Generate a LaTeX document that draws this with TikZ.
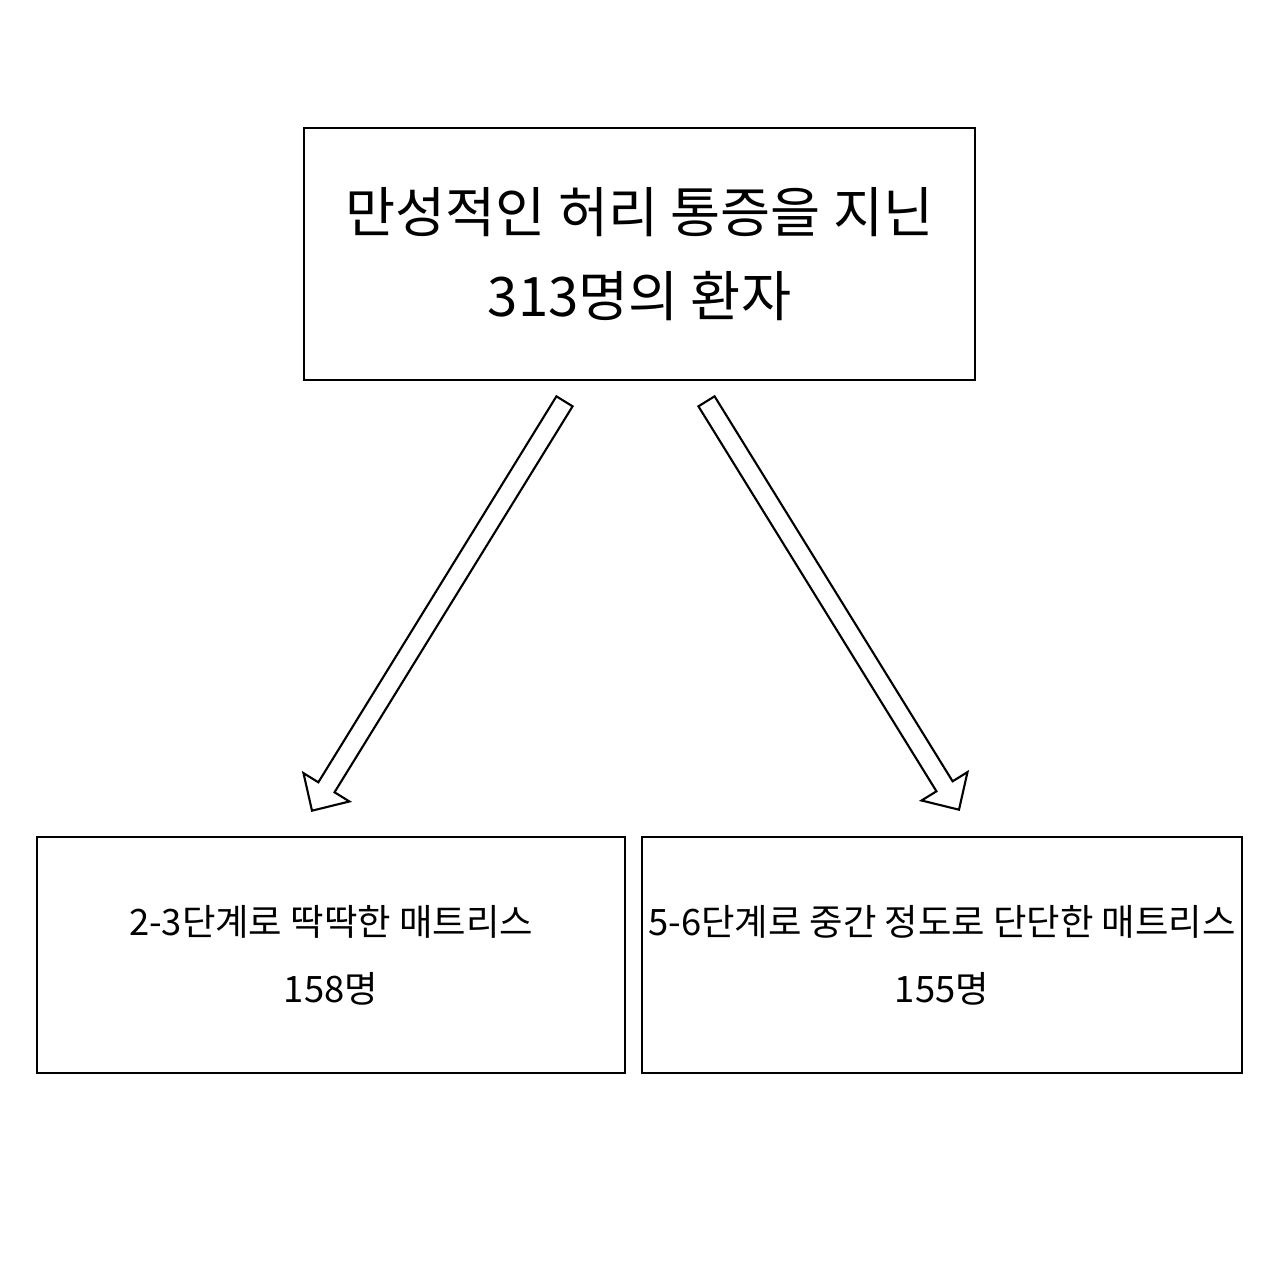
\documentclass[tikz,border=0pt]{standalone}
\usepackage{fontspec}
\setmainfont{Noto Sans CJK KR}
\usetikzlibrary{calc}

\begin{document}
\begin{tikzpicture}[x=0.1mm, y=-0.1mm,
      box/.style={draw=black, line width=0.75pt, align=center, inner sep=0pt},
      topbox/.style={box, minimum width=67.1mm, minimum height=25.2mm,
                     font=\fontsize{15.5}{24}\selectfont},
      subbox/.style={box, minimum height=23.6mm,
                     font=\fontsize{10.35}{19}\selectfont},
      blockarrow/.style={draw=black, line width=0.6pt, fill=white, line join=miter}]
    \useasboundingbox (0,0) rectangle (1280,1280);
    \node[topbox] (pat) at (639.5,254) {만성적인 허리 통증을 지닌\\313명의 환자};
    \node[subbox, minimum width=58.8mm] (firm) at (331,955)
          {2-3단계로 딱딱한 매트리스\\158명};
    \node[subbox, minimum width=60mm] (med) at (942,955)
          {5-6단계로 중간 정도로 단단한 매트리스\\155명};
    % arrow ends
    \coordinate (lt) at ($(pat.south)+(-75,20)$);
    \coordinate (lh) at ($(firm.north)+(-19,-25)$);
    \coordinate (rt) at ($(pat.south)+(67,20)$);
    \coordinate (rh) at ($(med.north)+(17,-26)$);
    \foreach \a/\b in {lt/lh, rt/rh} {
      \coordinate (hb) at ($(\b)!2.75mm!(\a)$);
      \draw[blockarrow] ($(\a)!0.95mm!90:(\b)$) -- ($(hb)!0.95mm!-90:(\a)$)
        -- ($(hb)!2.7mm!-90:(\a)$) -- (\b) -- ($(hb)!2.7mm!90:(\a)$)
        -- ($(hb)!0.95mm!90:(\a)$) -- ($(\a)!0.95mm!-90:(\b)$) -- cycle;
    }
  \end{tikzpicture}
\end{document}
